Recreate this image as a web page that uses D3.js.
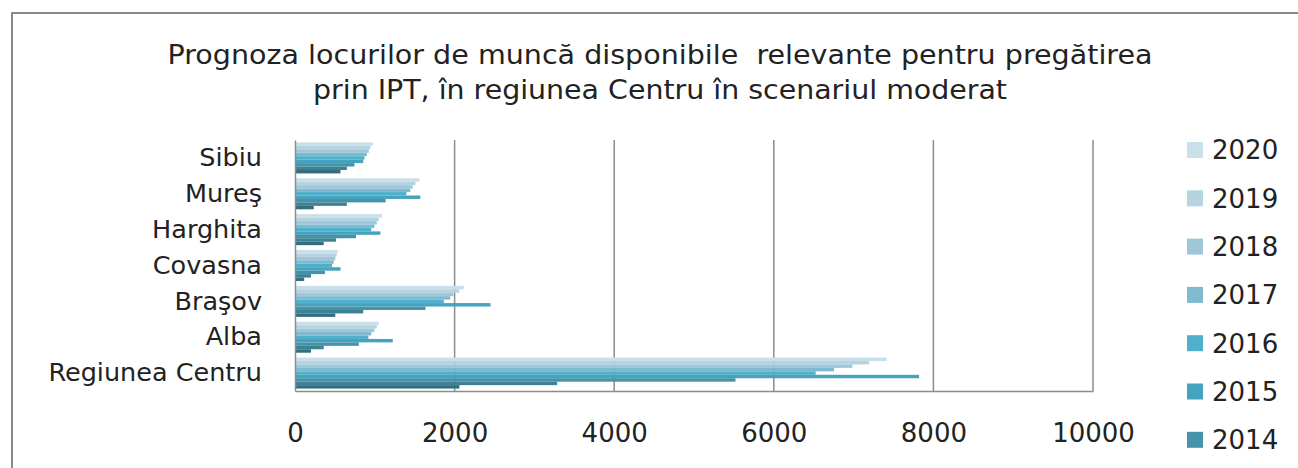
<!DOCTYPE html>
<html>
<head>
<meta charset="utf-8">
<script src="https://cdn.jsdelivr.net/npm/d3@7"></script>
<style>
  body { margin: 0; background: #fff; }
  text { font-family: "DejaVu Sans", sans-serif; fill: #222; }
</style>
</head>
<body>
<svg id="chart"></svg>
<script>
var WIDTH = 1298;
var HEIGHT = 468;

var categories = ['Sibiu', 'Mureş', 'Harghita', 'Covasna', 'Braşov', 'Alba', 'Regiunea Centru'];
var years = [2020, 2019, 2018, 2017, 2016, 2015, 2014, 2013, 2012];

// values per year, same order as categories
var y2020 = [975, 1560, 1090, 535, 2115, 1050, 7415];
var y2019 = [945, 1510, 1050, 520, 2060, 1025, 7195];
var y2018 = [925, 1475, 1025, 505, 1985, 995, 6985];
var y2017 = [900, 1445, 995, 485, 1945, 955, 6755];
var y2016 = [870, 1395, 955, 465, 1865, 920, 6525];
var y2015 = [855, 1570, 1070, 570, 2450, 1225, 7820];
var y2014 = [745, 1135, 765, 375, 1635, 800, 5520];
var y2013 = [650, 650, 515, 200, 855, 360, 3285];
var y2012 = [570, 235, 360, 115, 505, 200, 2060];
var series = [y2020, y2019, y2018, y2017, y2016, y2015, y2014, y2013, y2012];

var colors = ['#c9e0ea', '#b5d4e0', '#9ec8d9', '#80bad0', '#4eb0ca', '#45a3bd', '#4493aa', '#3c8196', '#336e7f'];

var xTicks = [0, 2000, 4000, 6000, 8000, 10000];
var titleLines = ['Prognoza locurilor de muncă disponibile  relevante pentru pregătirea',
                  'prin IPT, în regiunea Centru în scenariul moderat'];
var titleWidths = [985, 694];

var svg = d3.select('#chart')
    .attr('width', WIDTH)
    .attr('height', HEIGHT);

// outer frame
svg.append('rect')
    .attr('x', 12).attr('y', 13)
    .attr('width', 1320).attr('height', 520)
    .attr('fill', 'none')
    .attr('stroke', '#8a8a8a')
    .attr('stroke-width', 2);

svg.append('g').selectAll('text')
    .data(titleLines)
    .enter()
    .append('text')
    .attr('x', 660)
    .attr('y', function(d, i){ return 64 + i * 35; })
    .attr('text-anchor', 'middle')
    .attr('textLength', function(d, i){ return titleWidths[i]; })
    .attr('lengthAdjust', 'spacingAndGlyphs')
    .style('font-size', '26px')
    .style('white-space', 'pre')
    .text(function(d){ return d; });

var xScale = d3.scaleLinear().domain([0, 10000]).range([295, 1093]);
var yScale = d3.scaleBand().domain(categories).range([140, 391])
    .paddingInner(0.135).paddingOuter(0.0675);
var yInner = d3.scaleBand().domain(years).range([0, yScale.bandwidth()]);

// grid
svg.append('g').selectAll('line')
    .data(xTicks.slice(1))
    .enter()
    .append('line')
    .attr('x1', function(d){ return xScale(d); })
    .attr('x2', function(d){ return xScale(d); })
    .attr('y1', 140).attr('y2', 391)
    .attr('stroke', '#8c8c8c')
    .attr('stroke-width', 1.5);

// bars
var groups = svg.append('g').selectAll('g')
    .data(series)
    .enter()
    .append('g')
    .attr('fill', function(d, i){ return colors[i]; });

groups.selectAll('rect')
    .data(function(d, i){
        return d.map(function(v, j){ return {year: years[i], cat: categories[j], value: v}; });
    })
    .enter()
    .append('rect')
    .attr('x', xScale(0))
    .attr('y', function(d){ return yScale(d.cat) + yInner(d.year); })
    .attr('width', function(d){ return xScale(d.value) - xScale(0); })
    .attr('height', yInner.bandwidth());

// axes
var bottomAxis = d3.axisBottom(xScale).tickValues(xTicks).tickFormat(d3.format('d'))
    .tickSize(0).tickPadding(33);
var gx = svg.append('g')
    .attr('transform', 'translate(0,391)')
    .call(bottomAxis);
gx.select('.domain').attr('stroke', '#8c8c8c').attr('stroke-width', 1.5);
gx.selectAll('text').style('font-size', '26px').attr('fill', '#222');

var leftAxis = d3.axisLeft(yScale).tickSize(0).tickPadding(33);
var gy = svg.append('g')
    .attr('transform', 'translate(295,0)')
    .call(leftAxis);
gy.select('.domain').attr('stroke', '#8c8c8c').attr('stroke-width', 1.5);
gy.selectAll('text').style('font-size', '25.5px').attr('fill', '#222');

// legend (the last entries fall below the visible area, as in the original)
var legendStep = 48.3;
var legend = svg.append('g').selectAll('g')
    .data(years.filter(function(d, i){ return 150 + i * legendStep < HEIGHT - 10; }))
    .enter()
    .append('g')
    .attr('transform', function(d, i){ return 'translate(1187,' + (150 + i * legendStep) + ')'; });

legend.append('rect')
    .attr('x', 0).attr('y', -8)
    .attr('width', 16).attr('height', 16)
    .attr('fill', function(d, i){ return colors[i]; });

legend.append('text')
    .attr('x', 25).attr('y', 0)
    .attr('dy', '0.36em')
    .style('font-size', '26px')
    .text(function(d){ return d; });
</script>
</body>
</html>
